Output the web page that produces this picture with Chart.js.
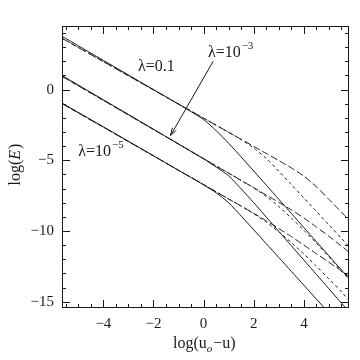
<!DOCTYPE html>
<html>
<head>
<meta charset="utf-8">
<script src="https://cdn.jsdelivr.net/npm/chart.js@4.4.1/dist/chart.umd.min.js"></script>
<style>
  html, body { margin: 0; padding: 0; background: #fff; }
</style>
</head>
<body>
<canvas id="chart" width="360" height="360"></canvas>
<script>
// abscisses communes : log(u0 - u)
const xVals = [-5.65, -4, -2, -1, -0.5, 0, 0.5, 1, 1.5, 2, 2.5, 3, 3.5, 4, 4.5, 5, 5.5, 5.8];

// lambda = 0.1
const topSolid = [3.77, 2.07, 0.0, -1.03, -1.56, -2.12, -2.9, -3.8, -4.77, -5.76, -6.76, -7.76, -8.76, -9.76, -10.76, -11.76, -12.76, -13.36];
const topLong  = [3.63, 1.98, -0.02, -1.02, -1.52, -2.02, -2.52, -3.02, -3.52, -4.02, -4.52, -5.02, -5.54, -6.12, -6.87, -7.77, -8.67, -9.25];
const topShort = [3.63, 1.98, -0.02, -1.02, -1.52, -2.02, -2.52, -3.02, -3.53, -4.14, -4.87, -5.77, -6.72, -7.67, -8.62, -9.57, -10.52, -11.1];

// lambda = 10^-3
const midSolid = [1.0, -0.72, -2.8, -3.85, -4.38, -4.9, -5.48, -6.1, -7.03, -8.0, -9.02, -10.03, -11.05, -12.06, -13.08, -14.09, -15.11, -15.71];
const midLong  = [0.94, -0.76, -2.82, -3.85, -4.37, -4.88, -5.4, -5.91, -6.43, -6.94, -7.46, -7.97, -8.51, -9.08, -9.72, -10.38, -11.07, -11.5];
const midShort = [0.94, -0.76, -2.82, -3.85, -4.37, -4.88, -5.4, -5.91, -6.43, -6.95, -7.56, -8.27, -9.09, -9.95, -10.87, -11.83, -12.85, -13.4];

// lambda = 10^-5
const lowSolid = [-0.95, -2.63, -4.68, -5.71, -6.22, -6.74, -7.3, -8.0, -8.95, -9.92, -10.9, -11.88, -12.86, -13.84, -14.82, -15.8, -16.78, -17.37];
const lowLong  = [-0.99, -2.66, -4.69, -5.71, -6.21, -6.72, -7.23, -7.74, -8.24, -8.75, -9.28, -9.83, -10.4, -11.0, -11.61, -12.22, -12.83, -13.21];
const lowShort = [-0.99, -2.66, -4.69, -5.71, -6.21, -6.72, -7.23, -7.74, -8.24, -8.78, -9.38, -10.07, -10.82, -11.63, -12.49, -13.4, -14.3, -14.91];

// graduations
const xTicks = [-4, -2, 0, 2, 4];
const yTicks = [-15, -10, -5, 0];

const SERIF = '"Liberation Serif", "DejaVu Serif", serif';
const INK = '#1a1a1a';

// Construit un jeu de données à partir d'une série
function makeSet(ys, dash) {
  return {
    data: xVals.map((x, i) => ({ x: x, y: ys[i] })),
    borderColor: INK,
    borderWidth: 1,
    borderDash: dash,
    pointRadius: 0,
    fill: false,
    tension: 0.2
  };
}

const LONG = [7, 3];
const SHORT = [3, 3];

// Cadre, graduations intérieures, titres et étiquettes
const decorPlugin = {
  id: 'decor',
  afterDraw(chart) {
    const ctx = chart.ctx;
    const a = chart.chartArea;
    const sx = chart.scales.x;
    const sy = chart.scales.y;
    ctx.save();
    ctx.strokeStyle = INK;
    ctx.lineWidth = 1;
    ctx.strokeRect(a.left + 0.5, a.top + 0.5, a.right - a.left - 1, a.bottom - a.top - 1);

    // graduations sur les quatre côtés
    ctx.beginPath();
    for (let v = -5.5; v <= 5.5; v += 0.5) {
      const px = Math.round(sx.getPixelForValue(v)) + 0.5;
      const len = (v % 2 === 0) ? 8 : 4;
      ctx.moveTo(px, a.bottom); ctx.lineTo(px, a.bottom - len);
      ctx.moveTo(px, a.top); ctx.lineTo(px, a.top + len);
    }
    for (let v = -15; v <= 4; v += 1) {
      const py = Math.round(sy.getPixelForValue(v)) + 0.5;
      const len = (v % 5 === 0) ? 8 : 4;
      ctx.moveTo(a.left, py); ctx.lineTo(a.left + len, py);
      ctx.moveTo(a.right, py); ctx.lineTo(a.right - len, py);
    }
    ctx.stroke();

    ctx.fillStyle = INK;
    ctx.textBaseline = 'middle';
    ctx.textAlign = 'left';

    // étiquettes lambda
    function lambda(xv, yv, base, sup) {
      let px = sx.getPixelForValue(xv);
      const py = sy.getPixelForValue(yv);
      ctx.font = '16px ' + SERIF;
      ctx.fillText(base, px, py);
      if (sup) {
        px += ctx.measureText(base).width + 1;
        ctx.font = '11px ' + SERIF;
        ctx.fillText(sup, px, py - 7);
      }
    }
    lambda(-2.62, 1.6, 'λ=0.1');
    lambda(0.17, 2.6, 'λ=10', '\u22123');
    lambda(-5.0, -4.4, 'λ=10', '\u22125');

    // flèche vers la famille lambda = 10^-3
    const x0 = sx.getPixelForValue(0.38), y0 = sy.getPixelForValue(2.0);
    const x1 = sx.getPixelForValue(-1.32), y1 = sy.getPixelForValue(-3.25);
    ctx.beginPath();
    ctx.moveTo(x0, y0); ctx.lineTo(x1, y1);
    const ang = Math.atan2(y0 - y1, x0 - x1);
    const h = 8;
    ctx.moveTo(x1, y1); ctx.lineTo(x1 + h * Math.cos(ang - 0.3), y1 + h * Math.sin(ang - 0.3));
    ctx.moveTo(x1, y1); ctx.lineTo(x1 + h * Math.cos(ang + 0.3), y1 + h * Math.sin(ang + 0.3));
    ctx.stroke();

    // titre de l'axe x : log(u0-u)
    ctx.textBaseline = 'alphabetic';
    let tx = 173;
    const ty = 348;
    ctx.font = '16px ' + SERIF;
    ctx.fillText('log(u', tx, ty);
    tx += ctx.measureText('log(u').width;
    ctx.font = 'italic 11px ' + SERIF;
    ctx.fillText('o', tx, ty + 4);
    tx += ctx.measureText('o').width + 1;
    ctx.font = '16px ' + SERIF;
    ctx.fillText('\u2212u)', tx, ty);

    // titre de l'axe y : log(E)
    ctx.translate(20, 165);
    ctx.rotate(-Math.PI / 2);
    ctx.font = '16px ' + SERIF;
    const w1 = ctx.measureText('log(').width;
    ctx.font = 'italic 16px ' + SERIF;
    const w2 = ctx.measureText('E').width;
    ctx.font = '16px ' + SERIF;
    const w3 = ctx.measureText(')').width;
    let ox = -(w1 + w2 + w3) / 2;
    ctx.fillText('log(', ox, 0);
    ox += w1;
    ctx.font = 'italic 16px ' + SERIF;
    ctx.fillText('E', ox, 0);
    ox += w2 + 1;
    ctx.font = '16px ' + SERIF;
    ctx.fillText(')', ox, 0);
    ctx.restore();
  }
};

const ctx = document.getElementById('chart').getContext('2d');
new Chart(ctx, {
  type: 'line',
  data: {
    datasets: [
      makeSet(topSolid, []), makeSet(topLong, LONG), makeSet(topShort, SHORT),
      makeSet(midSolid, []), makeSet(midLong, LONG), makeSet(midShort, SHORT),
      makeSet(lowSolid, []), makeSet(lowLong, LONG), makeSet(lowShort, SHORT)
    ]
  },
  options: {
    responsive: false,
    animation: false,
    layout: { padding: { top: 26, right: 11, left: 0, bottom: 0 } },
    plugins: { legend: { display: false }, tooltip: { enabled: false } },
    scales: {
      x: {
        type: 'linear',
        min: -5.65,
        max: 5.8,
        grid: { display: false, drawTicks: false },
        border: { display: false },
        afterBuildTicks: scale => { scale.ticks = xTicks.map(v => ({ value: v })); },
        afterFit: scale => { scale.height = 52; },
        ticks: {
          padding: 7,
          maxRotation: 0,
          autoSkip: false,
          color: INK,
          font: { family: SERIF, size: 15 },
          callback: v => String(v).replace('-', '\u2212')
        }
      },
      y: {
        type: 'linear',
        min: -15.45,
        max: 4.5,
        grid: { display: false, drawTicks: false },
        border: { display: false },
        afterBuildTicks: scale => { scale.ticks = yTicks.map(v => ({ value: v })); },
        afterFit: scale => { scale.width = 62; },
        ticks: {
          padding: 8,
          autoSkip: false,
          color: INK,
          font: { family: SERIF, size: 15 },
          callback: v => String(v).replace('-', '\u2212')
        }
      }
    }
  },
  plugins: [decorPlugin]
});
</script>
</body>
</html>
